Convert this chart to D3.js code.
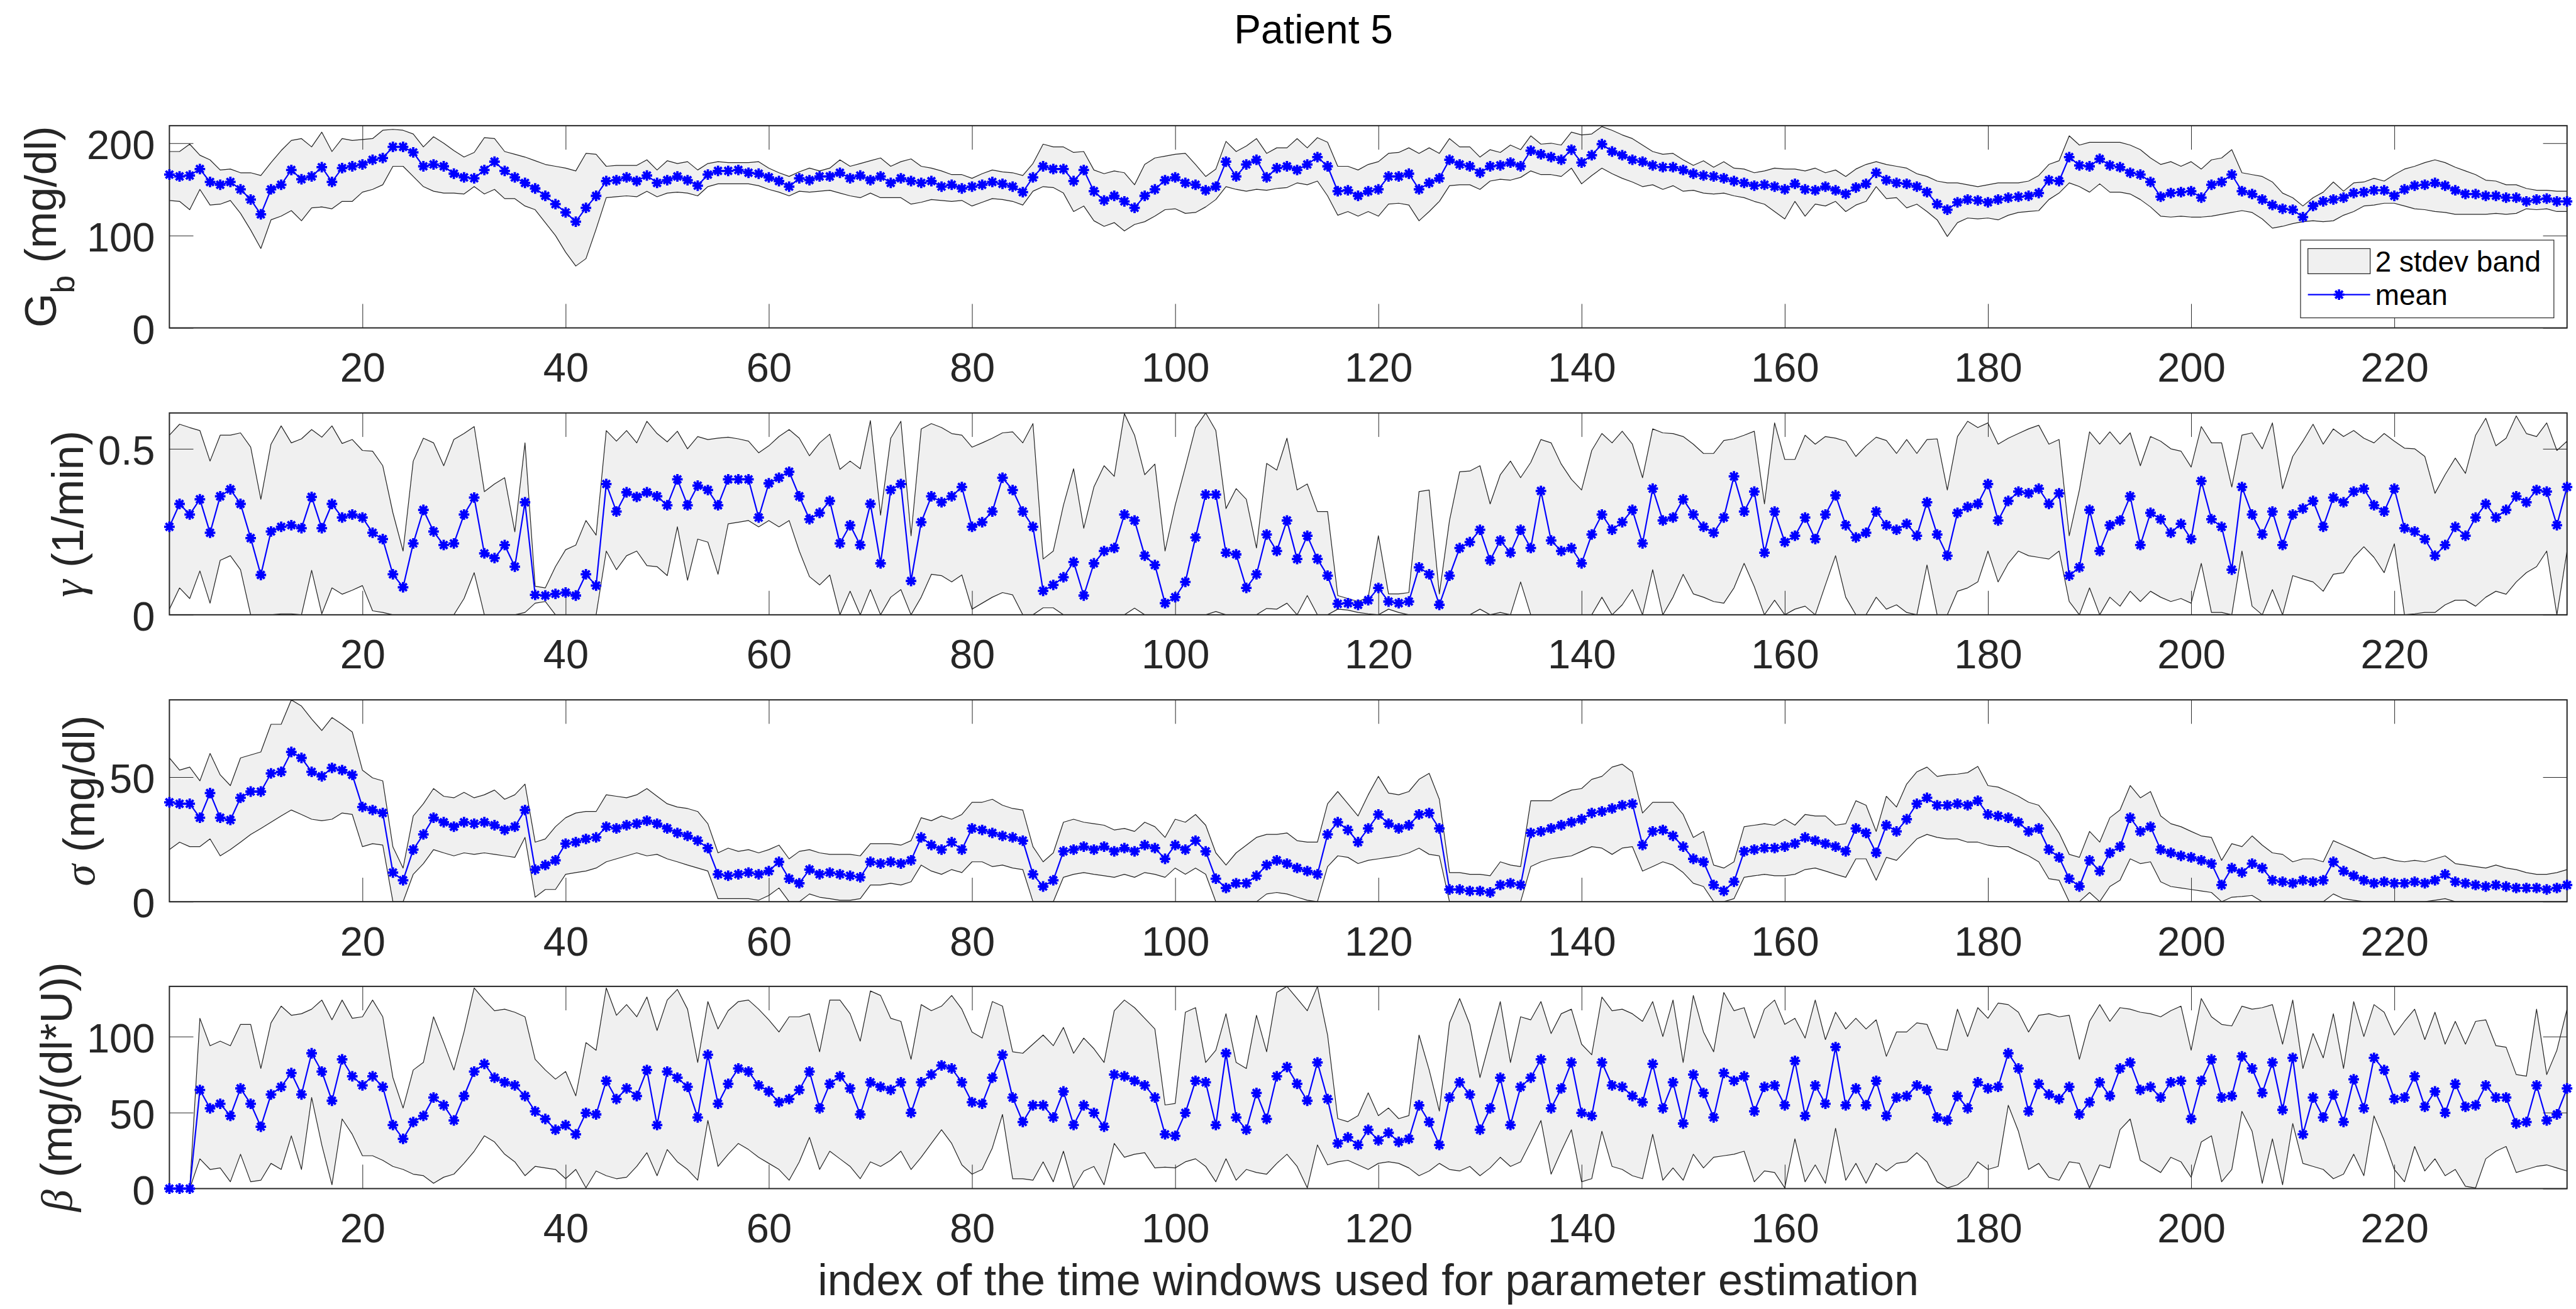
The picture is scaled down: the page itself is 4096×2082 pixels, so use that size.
<!DOCTYPE html>
<html lang="en">
<head>
<meta charset="utf-8">
<title>Patient 5</title>
<script src="https://cdn.jsdelivr.net/npm/d3@7"></script>
<style>
  html, body { margin: 0; padding: 0; background: #fff; }
  svg { display: block; font-family: "Liberation Sans", Arial, Helvetica, sans-serif; }
</style>
</head>
<body>
<svg id="chart" width="4096" height="2082"></svg>
<script>
// index of the time windows (x axis)
var windowIndex = d3.range(1, 238);
var xTicks = [20, 40, 60, 80, 100, 120, 140, 160, 180, 200, 220];

// G_b (mg/dl)
var gbMean = [166,164,165,172,158,155,158,150,139,123, 150,155,171,161,164,174,158,173,175,177,
  182,184,196,196,190,175,177,175,167,163, 162,171,180,170,163,157,151,143,134,125,
  115,130,143,159,160,163,159,165,157,160, 164,160,154,166,170,170,171,168,167,163,
  159,153,162,160,164,164,168,162,165,160, 164,157,162,159,157,159,153,155,151,153,
  155,158,156,153,147,163,175,172,172,159, 171,148,138,143,137,130,143,150,160,163,
  157,155,149,153,180,164,177,182,163,173, 175,171,177,185,175,148,149,143,148,150,
  164,164,167,150,157,162,182,177,175,168, 175,176,179,175,192,188,185,182,193,179,
  187,199,191,187,182,180,176,174,174,171, 167,165,164,162,159,157,154,155,153,150,
  156,150,149,153,149,145,152,156,168,160, 157,156,153,147,134,128,136,139,138,136,
  139,141,142,143,146,160,159,185,176,175, 183,176,174,168,166,158,142,146,147,148,
  141,155,158,166,148,145,139,133,129,128, 120,132,137,139,141,146,147,149,149,143,
  150,154,155,157,154,149,145,145,143,143, 141,141,137,139,140,137,137];
var gbUpper = [191,191,199,187,182,171,172,168,168,165, 179,192,203,205,196,212,191,205,203,204,
  205,214,215,214,210,196,207,200,192,185, 190,206,205,191,188,185,181,177,175,173,
  170,189,188,175,176,176,176,182,171,181, 178,180,171,178,180,179,179,179,180,173,
  168,164,169,173,170,173,182,175,178,181, 184,175,180,183,175,173,170,166,166,162,
  167,171,169,168,165,178,199,196,196,190, 191,171,167,170,168,155,177,184,186,188,
  189,177,164,172,202,191,197,205,189,195, 195,205,195,206,201,175,175,171,177,180,
  189,190,195,189,195,189,205,196,196,185, 193,190,198,193,208,199,200,198,212,209,
  210,218,214,209,205,198,191,188,189,182, 176,181,174,180,173,172,168,170,173,172,
  172,170,173,168,171,164,172,177,180,177, 175,173,167,164,159,157,157,155,153,155,
  157,157,157,159,165,177,181,208,198,201, 201,201,201,198,193,184,177,180,175,180,
  172,182,184,193,168,166,164,158,146,141, 132,141,147,158,148,157,158,162,159,166,
  172,175,179,182,179,174,170,166,160,159, 155,155,151,149,149,148,148];
var gbLower = [138,137,128,150,133,134,138,124,106,86, 117,121,127,116,130,131,129,137,137,147,
  150,155,175,175,164,153,148,146,146,145, 153,145,150,140,140,132,128,114,100,82,
  67,75,107,141,142,143,142,148,142,146, 147,146,143,153,156,156,156,156,154,150,
  147,143,148,147,148,149,146,143,141,146, 141,141,141,134,136,139,138,137,138,132,
  136,140,139,137,133,148,153,152,146,126, 132,116,110,114,105,112,115,121,128,129,
  124,125,131,139,153,150,148,150,149,151, 152,157,155,159,143,122,126,121,126,121,
  134,135,133,116,126,137,154,155,155,150, 159,161,160,163,170,166,166,164,173,156,
  165,173,167,162,158,153,155,150,154,148, 149,146,145,146,143,141,137,134,126,118,
  137,121,134,132,137,126,133,137,153,140, 141,130,134,126,117,99,114,119,118,119,
  117,122,125,126,127,139,146,157,153,147, 156,147,147,145,139,131,121,120,121,120,
  120,121,123,125,127,125,118,108,110,113, 115,116,115,116,122,126,132,133,135,135,
  132,129,128,126,125,123,123,123,123,124, 123,124,129,128,129,126,126];

// gamma (1/min)
var gammaMean = [.265,.334,.302,.348,.247,.357,.378,.334,.231,.120, .251,.265,.270,.261,.355,.261,.334,.293,.302,.293,
  .247,.228,.122,.083,.215,.316,.251,.210,.215,.302, .353,.185,.171,.210,.145,.339,.060,.058,.063,.067,
  .058,.122,.088,.394,.311,.369,.355,.369,.357,.330, .408,.330,.389,.376,.330,.408,.408,.408,.293,.396,
  .413,.431,.357,.288,.307,.343,.215,.270,.210,.334, .155,.376,.394,.102,.279,.357,.339,.357,.385,.265,
  .279,.311,.413,.376,.311,.265,.072,.090,.113,.159, .058,.155,.192,.201,.302,.284,.178,.150,.035,.053,
  .099,.233,.362,.362,.187,.182,.081,.122,.242,.192, .284,.168,.238,.168,.118,.033,.035,.030,.044,.081,
  .040,.035,.040,.143,.122,.030,.118,.201,.219,.256, .164,.224,.187,.256,.201,.373,.224,.192,.201,.155,
  .242,.302,.256,.279,.316,.215,.380,.284,.293,.348, .302,.265,.247,.293,.417,.311,.371,.187,.311,.219,
  .238,.293,.228,.302,.360,.270,.233,.247,.311,.270, .256,.274,.238,.339,.242,.178,.307,.325,.334,.394,
  .284,.343,.371,.366,.380,.334,.366,.118,.143,.316, .192,.270,.284,.357,.210,.307,.288,.247,.274,.228,
  .403,.288,.265,.136,.385,.302,.242,.311,.210,.302, .320,.343,.265,.353,.339,.371,.380,.330,.311,.380,
  .261,.251,.228,.178,.210,.265,.238,.293,.334,.293, .316,.357,.339,.376,.371,.270,.385];
var gammaUpper = [.541,.574,.564,.555,.463,.541,.541,.548,.505,.348, .514,.569,.518,.530,.558,.535,.569,.516,.528,.495,
  .493,.449,.307,.192,.463,.532,.518,.449,.528,.546, .567,.371,.394,.413,.250,.518,.086,.081,.145,.196,
  .210,.284,.240,.555,.523,.555,.518,.583,.546,.521, .553,.500,.537,.528,.532,.535,.530,.523,.488,.509,
  .537,.558,.532,.479,.518,.544,.438,.463,.440,.585, .300,.532,.583,.238,.560,.576,.564,.546,.541,.505,
  .518,.532,.548,.551,.518,.576,.168,.192,.330,.440, .261,.385,.449,.417,.606,.541,.422,.454,.192,.330,
  .445,.564,.608,.555,.320,.380,.348,.201,.456,.436, .532,.376,.394,.311,.311,.058,.049,.040,.053,.238,
  .063,.063,.067,.371,.376,.063,.284,.431,.433,.449, .334,.422,.463,.413,.459,.528,.518,.454,.408,.376,
  .495,.546,.518,.553,.514,.413,.560,.548,.546,.537, .514,.486,.486,.525,.530,.541,.553,.334,.578,.468,
  .468,.541,.514,.537,.532,.523,.477,.509,.535,.525, .486,.528,.486,.528,.530,.376,.537,.583,.564,.578,
  .514,.532,.546,.560,.571,.514,.528,.238,.376,.551, .514,.551,.514,.548,.449,.537,.523,.500,.493,.445,
  .567,.518,.518,.385,.541,.548,.500,.578,.380,.477, .523,.574,.514,.560,.537,.555,.532,.518,.546,.523,
  .502,.500,.477,.366,.422,.472,.426,.541,.592,.509, .532,.599,.546,.537,.578,.495,.523];
var gammaLower = [.017,.081,.049,.132,.035,.164,.178,.136,0,0, 0,.003,.003,0,.134,.003,.081,.062,.074,.088,
  .012,.007,0,0,0,0,0,0,0,.049, .127,0,0,0,0,.007,.035,.040,0,0,
  0,0,0,.192,.136,.178,.192,.148,.145,.118, .265,.104,.228,.219,.122,.274,.279,.284,.265,.284,
  .265,.284,.192,.115,.090,.120,0,.071,0,.076, 0,.053,.076,0,.053,.122,.118,.099,.120,.017,
  .035,.053,.067,.060,0,0,.021,.021,0,0, 0,0,0,0,0,.020,0,0,0,0,
  0,0,0,.010,0,0,0,0,.019,.017, .035,0,.058,0,0,.017,.014,.007,.003,0,
  .017,.007,0,0,0,0,0,0,0,.017, 0,.007,0,.099,0,0,0,0,0,0,
  0,.053,0,.030,.076,0,.136,0,.053,.122, .063,.053,.040,.035,.081,.155,.085,0,.044,0,
  .017,.026,0,.090,.178,.053,0,0,.053,.017, .030,.007,0,.150,0,0,.071,.081,.099,.192,
  .099,.155,.192,.178,.173,.168,.192,.040,0,.081, 0,.053,.026,.071,.040,.071,.053,.040,.049,.035,
  .155,.007,.007,0,.192,.026,0,.076,0,.118, .108,.099,.071,.122,.127,.173,.205,.173,.127,.214,
  0,.003,.007,.007,.030,.044,.044,.026,.053,.071, .062,.099,.127,.145,.192,0,.192];

// sigma (mg/dl)
var sigmaMean = [39.9,39.3,39.3,33.7,43.6,33.7,32.8,41.7,44.2,44.2, 51.5,52.1,60.1,57.7,52.1,50.3,53.7,52.8,50.9,38.0,
  36.8,35.6,11.7,8.6,20.9,27.0,33.7,31.9,30.1,31.9, 31.3,31.9,30.7,28.8,30.1,36.8,12.9,14.7,16.6,23.3,
  23.9,25.2,25.8,30.1,29.4,30.7,31.3,32.5,31.3,29.4, 27.6,26.4,24.5,21.5,11.0,10.4,11.0,11.7,11.0,12.3,
  16.0,9.2,7.4,12.9,11.0,11.7,11.0,10.4,9.8,16.0, 15.3,16.0,15.3,16.6,25.8,22.7,20.9,23.9,20.9,29.4,
  28.8,27.6,26.4,25.8,24.5,11.0,6.1,8.6,20.2,20.9, 22.1,20.9,22.1,20.2,21.5,20.2,22.7,21.5,17.2,22.7,
  20.9,24.5,20.2,9.2,5.5,7.4,7.4,10.4,14.7,16.6, 15.3,13.5,12.3,11.0,27.0,31.9,28.8,23.9,29.4,35.0,
  31.3,29.4,30.7,35.0,35.6,29.4,4.9,4.9,4.3,4.3, 3.7,6.7,7.4,6.7,27.6,28.2,29.4,30.7,31.9,33.1,
  35.6,36.2,37.4,38.7,39.3,22.7,28.2,28.8,26.4,22.1, 17.2,16.0,6.7,4.3,8.0,20.2,20.9,21.5,21.5,22.1,
  23.3,25.8,24.5,23.3,22.1,20.2,29.4,27.6,19.6,30.7, 28.2,33.1,39.3,41.7,38.7,38.7,39.3,38.7,40.5,35.0,
  34.4,33.7,31.9,28.2,29.4,20.9,17.8,9.2,6.1,16.6, 12.3,19.6,22.1,33.7,28.2,30.1,20.9,19.6,18.4,17.8,
  16.6,15.3,6.7,13.5,11.7,15.3,13.5,8.6,8.0,7.4, 8.6,8.0,8.6,16.0,12.3,10.4,8.6,7.4,8.0,7.4,
  7.4,8.0,7.4,8.6,11.0,8.0,7.4,6.7,6.1,6.7, 6.1,5.5,5.5,5.5,4.9,5.5,6.7];
var sigmaUpper = [57.7,52.8,54.0,48.5,59.5,50.9,46.6,57.7,58.9,60.1, 71.2,71.2,81.0,78.5,73.3,68.7,73.9,71.2,68.1,52.8,
  49.7,48.5,22.0,13.5,34.4,39.3,45.4,42.3,41.7,43.9, 41.7,42.9,44.8,41.1,42.9,47.2,23.9,25.2,30.1,33.7,
  35.6,36.2,36.2,42.9,42.3,41.7,42.9,45.4,42.3,39.3, 38.0,37.4,36.2,31.3,19.6,21.5,20.2,20.9,19.6,20.9,
  22.7,17.2,20.2,20.9,19.6,19.0,19.0,19.0,18.4,23.3, 23.3,23.3,22.7,24.5,33.7,32.5,34.4,33.1,35.0,39.9,
  39.9,41.1,38.7,37.4,36.8,22.1,16.0,19.6,31.9,33.1, 31.9,31.3,30.7,28.8,29.4,28.2,31.9,30.1,25.8,33.1,
  31.9,35.0,30.7,19.6,14.7,19.6,22.7,25.8,27.0,27.0, 27.6,24.5,23.9,23.9,39.3,44.2,39.3,34.4,42.9,50.3,
  43.6,42.9,44.2,49.1,51.5,41.1,11.7,11.7,11.0,11.0, 10.4,16.0,14.7,14.1,40.5,40.5,40.5,42.9,44.8,45.4,
  49.1,50.3,54.0,55.2,52.1,35.6,39.9,39.9,39.9,35.0, 25.8,28.2,14.7,13.5,16.0,30.1,30.7,31.3,30.7,33.1,
  30.7,35.0,34.4,34.4,30.7,31.3,40.5,38.7,28.2,42.3, 38.0,47.2,52.1,54.0,50.3,50.9,51.2,51.8,54.3,46.6,
  46.0,44.2,42.3,39.9,38.7,33.7,27.6,19.0,17.8,28.2, 23.9,33.7,36.8,46.6,41.7,44.2,34.4,31.3,30.1,28.2,
  26.4,25.8,16.6,23.3,22.1,26.4,22.7,19.6,19.0,16.0, 17.2,17.2,16.0,24.5,22.7,20.9,19.0,17.2,17.8,16.6,
  16.0,16.6,16.0,17.2,18.4,15.3,14.7,14.1,13.5,14.7, 13.5,12.9,11.7,11.0,11.0,11.7,12.9];
var sigmaLower = [20.9,23.9,22.1,22.1,25.2,18.4,20.9,23.9,27.0,29.4, 31.9,34.4,36.8,35.0,33.1,32.5,33.1,35.6,35.0,22.1,
  23.3,22.7,0,0,11.0,15.3,20.9,19.6,18.4,19.6, 19.0,19.6,19.0,18.4,17.8,25.8,1.8,4.9,4.9,11.0,
  11.7,12.3,13.5,16.0,17.2,18.4,19.6,18.4,19.0,17.2, 16.0,14.7,13.5,12.3,1.2,1.2,1.2,1.2,0.6,2.5,
  5.5,0,0,3.1,1.8,1.2,0.6,0.6,1.2,6.7, 6.7,7.4,6.7,8.0,14.7,12.3,11.0,12.9,11.7,16.0,
  16.0,14.1,14.7,13.5,12.9,0,0,0,9.8,11.0, 11.7,11.0,10.4,9.8,11.0,9.8,11.7,11.0,9.8,13.5,
  11.0,13.5,11.0,0,0,0,0,0,3.1,3.7, 3.1,1.8,0.6,0,14.1,18.4,17.8,15.3,16.6,17.2,
  17.8,18.4,19.6,21.5,19.0,18.4,0,0,0,0, 0,0,0,0,14.1,16.0,17.2,17.8,18.4,20.2,
  22.1,21.5,19.0,21.5,22.1,12.3,14.1,16.0,14.7,11.7, 7.4,6.1,0,0,1.2,9.8,10.4,11.0,10.4,10.4,
  11.0,12.9,13.5,12.3,11.0,9.8,17.2,17.2,8.6,17.8, 16.6,20.9,25.2,27.0,25.8,25.2,25.2,23.9,23.9,22.7,
  22.1,22.1,20.2,18.4,16.0,9.2,8.6,0,0,3.7, 0,6.1,8.6,17.2,15.3,16.0,8.0,6.1,5.5,4.9,
  4.3,3.7,0,1.8,2.1,2.5,0,0,0,0, 0,0,0,3.1,1.2,0.6,0,0,0,0,
  0,0,0,0.6,1.2,0,0,0,0,0, 0,0,0,0,0,0,0];

// beta (mg/(dl*U))
var betaMean = [0,0,0,64.9,52.8,55.8,47.8,65.9,55.8,40.7, 61.9,66.9,76.0,61.9,89.0,77.0,57.8,85.0,73.9,67.9,
  73.9,66.9,41.8,32.7,43.8,47.8,59.9,54.8,44.8,60.9, 77.0,82.0,72.9,69.9,67.9,60.9,50.8,45.8,38.7,41.8,
  35.7,49.8,48.8,70.9,58.9,65.9,60.9,78.0,41.8,77.0, 72.9,66.9,46.8,88.0,55.8,68.9,79.0,77.0,67.9,63.9,
  56.8,58.9,64.9,77.0,52.8,68.9,73.9,65.9,48.8,69.9, 66.9,64.9,69.9,49.8,69.9,75.0,81.0,79.0,69.9,56.8,
  55.8,72.9,88.0,59.9,43.8,54.8,54.8,46.8,63.9,41.8, 54.8,49.8,40.7,75.0,73.9,70.9,67.9,59.9,35.7,34.7,
  49.8,70.9,69.9,41.8,89.0,46.8,38.7,62.9,45.8,73.9, 80.0,68.9,57.8,83.0,58.9,29.7,33.7,28.7,38.7,31.7,
  36.7,30.7,32.7,54.8,43.8,28.7,59.9,69.9,61.9,38.7, 52.8,72.9,41.8,66.9,72.9,85.0,52.8,65.9,83.0,49.8,
  47.8,83.0,67.9,66.9,60.9,56.8,82.0,52.8,69.9,42.8, 75.0,62.9,46.8,76.0,70.9,73.9,50.8,66.9,67.9,54.8,
  84.0,47.8,67.9,55.8,93.1,54.8,65.9,54.8,70.9,47.8, 59.9,60.9,67.9,64.9,46.8,44.8,60.9,52.8,69.9,65.9,
  66.9,89.0,79.0,50.8,68.9,61.9,58.9,66.9,48.8,56.8, 69.9,60.9,79.0,83.0,64.9,66.9,59.9,69.9,70.9,45.8,
  70.9,85.0,59.9,60.9,87.0,79.0,62.9,83.0,51.8,86.0, 35.7,59.9,46.8,61.9,43.8,71.9,52.8,86.0,78.0,58.9,
  59.9,73.9,53.8,63.9,49.8,68.9,53.8,54.8,67.9,59.9, 59.9,42.8,43.8,67.9,44.8,48.8,65.9];
var betaUpper = [0,0,0,112,94,97,94,108,108,79, 109,120,114,115,118,124,111,124,112,113,
  124,113,73,53,78,83,113,96,78,103, 132,124,117,118,116,113,85,78,72,77,
  61,96,91,132,114,121,113,126,104,124, 131,118,83,123,105,117,123,124,118,111,
  103,113,113,115,90,124,124,115,97,130, 127,112,110,85,121,117,120,127,118,103,
  99,123,120,90,89,95,101,94,106,89, 99,92,83,117,124,119,112,105,55,56,
  116,119,83,91,115,83,79,114,90,129, 133,125,117,133,101,46,44,48,63,48,
  53,46,48,101,78,51,109,125,108,73, 98,123,83,113,111,123,102,115,118,95,
  88,126,117,118,115,110,123,100,124,83, 127,103,90,129,117,119,99,118,124,108,
  112,99,124,98,116,105,112,105,111,87, 103,103,109,108,92,91,118,100,119,112,
  122,121,116,103,114,115,113,114,85,110, 121,110,119,118,116,115,113,117,120,91,
  125,113,108,107,120,118,119,121,95,124, 79,102,86,115,79,123,100,121,116,101,
  110,118,98,116,95,110,95,110,111,94, 93,75,74,118,75,91,118];
var betaLower = [0,0,0,19.6,12.6,13.6,4.5,22.6,4.5,5.5, 16.6,12.6,34.7,12.6,59.9,28.7,2.5,45.8,35.7,21.6,
  21.6,18.6,14.6,12.6,9.5,8.5,3.5,7.5,9.5,16.6, 24.6,34.7,30.7,22.6,17.6,8.5,14.6,13.6,12.6,6.5,
  12.6,0.5,11.6,8.5,6.5,7.5,14.6,23.6,8.5,25.7, 17.6,12.6,5.5,44.8,14.6,22.6,29.7,25.7,20.6,16.6,
  12.6,5.5,17.6,33.7,12.6,24.6,19.6,14.6,6.5,17.6, 14.6,18.6,24.6,12.6,20.6,29.7,38.7,29.7,15.6,9.5,
  12.6,26.7,48.8,6.5,6.5,5.5,17.6,4.5,24.6,0.5, 11.6,14.6,2.5,29.7,20.6,22.6,23.6,13.6,14.1,13.6,
  17.6,19.6,14.6,4.5,19.6,5.5,12.6,10.6,9.5,16.6, 22.6,14.6,0.5,28.7,15.6,17.6,18.6,15.6,12.6,16.6,
  17.6,16.6,13.6,8.5,11.6,16.6,12.6,11.6,14.6,8.5, 13.6,20.6,14.6,17.6,30.7,44.8,9.5,24.6,38.7,4.5,
  6.5,37.7,14.6,12.6,8.5,6.5,35.7,5.5,13.6,5.5, 22.6,13.6,20.6,21.6,22.6,24.6,4.5,11.6,10.6,0.5,
  32.7,4.5,15.6,3.5,39.7,5.5,16.6,3.5,16.6,11.6, 16.6,17.6,23.6,17.6,4.5,0.5,2.5,7.5,17.6,12.6,
  14.6,54.8,37.7,12.6,16.6,7.5,5.5,17.6,16.6,0.5, 15.6,13.6,38.7,45.8,18.6,14.6,10.6,20.6,17.6,7.5,
  30.7,34.7,4.5,12.6,50.8,37.7,3.5,32.7,2.5,42.8, 16.6,14.6,12.6,6.5,9.5,22.6,8.5,47.8,31.7,12.6,
  4.5,27.7,11.6,19.6,8.5,12.6,1.5,0.5,19.6,24.6, 27.7,10.6,12.6,14.6,15.6,13.6,11.6];

// layout, in pixels of the original figure, scaled by S
var S = 0.615;
var axisColor = '#262626';
var serif = '"Liberation Serif", "DejaVu Serif", serif';
var tickLen = 62 * S;
var tickFont = 65, labelFont = 70, legendFont = 46;

var svg = d3.select('#chart');
svg.append('rect').attr('width', 4096).attr('height', 2082).attr('fill', '#fff');

var x = d3.scaleLinear().domain([1, 237]).range([438 * S, 6637 * S]);

var panels = [
  {key: 'gb', top: 325, bottom: 848, ymax: 219, yticks: [0, 100, 200],
   mean: gbMean, upper: gbUpper, lower: gbLower,
   label: [{t: 'G'}, {t: 'b', sub: true}, {t: ' (mg/dl)', up: true}]},
  {key: 'gamma', top: 1068, bottom: 1590, ymax: 0.608, yticks: [0, 0.5],
   mean: gammaMean, upper: gammaUpper, lower: gammaLower,
   label: [{t: 'γ', greek: true}, {t: ' (1/min)'}]},
  {key: 'sigma', top: 1810, bottom: 2332, ymax: 81, yticks: [0, 50],
   mean: sigmaMean, upper: sigmaUpper, lower: sigmaLower,
   label: [{t: 'σ', greek: true}, {t: ' (mg/dl)'}]},
  {key: 'beta', top: 2551, bottom: 3074, ymax: 133, yticks: [0, 50, 100],
   mean: betaMean, upper: betaUpper, lower: betaLower,
   label: [{t: 'β', greek: true}, {t: ' (mg/(dl*U))'}]}
];

function asterisk(r) {
  var a = r * 0.7071;
  return 'M' + (-r) + ',0H' + r + 'M0,' + (-r) + 'V' + r +
         'M' + (-a) + ',' + (-a) + 'L' + a + ',' + a +
         'M' + (-a) + ',' + a + 'L' + a + ',' + (-a);
}
var markerPath = asterisk(8.4);
var markerWidth = 3.8;

function styleAxis(g) {
  g.attr('font-family', null).attr('font-size', null);
  g.selectAll('.tick line').attr('stroke', axisColor).attr('stroke-width', 1);
  g.selectAll('.tick text').attr('fill', axisColor).style('font-size', tickFont + 'px');
}

function drawPanel(p) {
  var y = d3.scaleLinear().domain([0, p.ymax]).range([p.bottom * S, p.top * S]);
  var g = svg.append('g').attr('class', 'panel-' + p.key);
  var x0 = x(1), x1 = x(237), yTop = y(p.ymax), yBot = y(0);

  var rows = windowIndex.map(function(w, i) {
    return {w: w, m: p.mean[i], lo: p.lower[i], hi: p.upper[i]};
  }).filter(function(d) { return d.m != null; });

  g.append('clipPath').attr('id', 'clip-' + p.key)
    .append('rect').attr('x', x0).attr('y', yTop).attr('width', x1 - x0).attr('height', yBot - yTop);

  // 2 stdev band
  var band = d3.area()
    .x(function(d) { return x(d.w); })
    .y0(function(d) { return y(d.lo); })
    .y1(function(d) { return y(d.hi); });
  g.append('path').datum(rows)
    .attr('d', band)
    .attr('fill', '#f0f0f0')
    .attr('stroke', '#222')
    .attr('stroke-width', 1.2)
    .attr('stroke-linejoin', 'round')
    .attr('clip-path', 'url(#clip-' + p.key + ')');

  // axes: ticks inward on all four sides
  var gx = g.append('g').attr('transform', 'translate(0,' + yBot + ')')
    .call(d3.axisBottom(x).tickValues(xTicks).tickSize(-tickLen).tickSizeOuter(0).tickPadding(39.5));
  gx.select('.domain').remove();
  styleAxis(gx);

  var gxt = g.append('g').attr('transform', 'translate(0,' + yTop + ')')
    .call(d3.axisTop(x).tickValues(xTicks).tickSize(-tickLen).tickSizeOuter(0).tickFormat(''));
  gxt.select('.domain').remove();
  styleAxis(gxt);

  var gy = g.append('g').attr('transform', 'translate(' + x0 + ',0)')
    .call(d3.axisLeft(y).tickValues(p.yticks).tickSize(-tickLen).tickSizeOuter(0).tickPadding(23)
      .tickFormat(d3.format('~g')));
  gy.select('.domain').remove();
  styleAxis(gy);
  gy.selectAll('.tick text').attr('dy', '0.38em');

  var gyr = g.append('g').attr('transform', 'translate(' + x1 + ',0)')
    .call(d3.axisRight(y).tickValues(p.yticks).tickSize(-tickLen).tickSizeOuter(0).tickFormat(''));
  gyr.select('.domain').remove();
  styleAxis(gyr);

  g.append('rect')
    .attr('x', x0).attr('y', yTop).attr('width', x1 - x0).attr('height', yBot - yTop)
    .attr('fill', 'none').attr('stroke', axisColor).attr('stroke-width', 2);

  // mean
  var line = d3.line().x(function(d) { return x(d.w); }).y(function(d) { return y(d.m); });
  g.append('path').datum(rows)
    .attr('d', line)
    .attr('fill', 'none')
    .attr('stroke', '#0000ff')
    .attr('stroke-width', 2.2)
    .attr('stroke-linejoin', 'round');
  g.append('g').selectAll('path').data(rows).join('path')
    .attr('d', markerPath)
    .attr('transform', function(d) { return 'translate(' + x(d.w) + ',' + y(d.m) + ')'; })
    .attr('fill', 'none')
    .attr('stroke', '#0000ff')
    .attr('stroke-width', markerWidth);

  // y label, placed left of the widest tick label
  var lab = g.append('text')
    .attr('text-anchor', 'middle')
    .attr('fill', axisColor)
    .style('font-size', labelFont + 'px');
  p.label.forEach(function(seg) {
    var t = lab.append('tspan').text(seg.t);
    if (seg.greek) t.style('font-family', serif).style('font-style', 'italic');
    if (seg.sub) t.attr('dy', 0.42 * labelFont).style('font-size', (0.74 * labelFont) + 'px');
    if (seg.up) t.attr('dy', -0.42 * labelFont);
  });
  var minLeft = d3.min(gy.selectAll('.tick text').nodes(), function(n) { return n.getBBox().x; });
  var rightEdge = x0 + minLeft - 14 * S;
  var bb = lab.node().getBBox();
  var cy = (yTop + yBot) / 2;
  lab.attr('transform', 'translate(' + (rightEdge - (bb.y + bb.height)) + ',' +
    (cy + bb.x + bb.width / 2) + ') rotate(-90)');
}

panels.forEach(drawPanel);

// title and x label
svg.append('text')
  .attr('x', 3396 * S).attr('y', 113 * S)
  .attr('text-anchor', 'middle')
  .attr('fill', '#000')
  .style('font-size', '64px')
  .text('Patient 5');

svg.append('text')
  .attr('x', (x(1) + x(237)) / 2).attr('y', 3349 * S)
  .attr('text-anchor', 'middle')
  .attr('fill', axisColor)
  .style('font-size', labelFont + 'px')
  .text('index of the time windows used for parameter estimation');

// legend in the top panel
var lg = svg.append('g');
lg.append('rect')
  .attr('x', 5948 * S).attr('y', 621 * S).attr('width', 655 * S).attr('height', 201 * S)
  .attr('fill', '#fff').attr('stroke', axisColor).attr('stroke-width', 1.2);
lg.append('rect')
  .attr('x', 5967 * S).attr('y', 643 * S).attr('width', 161 * S).attr('height', 65 * S)
  .attr('fill', '#f0f0f0').attr('stroke', '#222').attr('stroke-width', 1.2);
lg.append('text')
  .attr('x', 6141 * S).attr('y', 703 * S)
  .attr('fill', '#000').style('font-size', legendFont + 'px')
  .text('2 stdev band');
lg.append('line')
  .attr('x1', 5967 * S).attr('x2', 6128 * S).attr('y1', 762 * S).attr('y2', 762 * S)
  .attr('stroke', '#0000ff').attr('stroke-width', 2.2);
lg.append('path')
  .attr('d', markerPath)
  .attr('transform', 'translate(' + (6047.5 * S) + ',' + (762 * S) + ')')
  .attr('fill', 'none').attr('stroke', '#0000ff').attr('stroke-width', markerWidth);
lg.append('text')
  .attr('x', 6141 * S).attr('y', 789 * S)
  .attr('fill', '#000').style('font-size', legendFont + 'px')
  .text('mean');
</script>
</body>
</html>
